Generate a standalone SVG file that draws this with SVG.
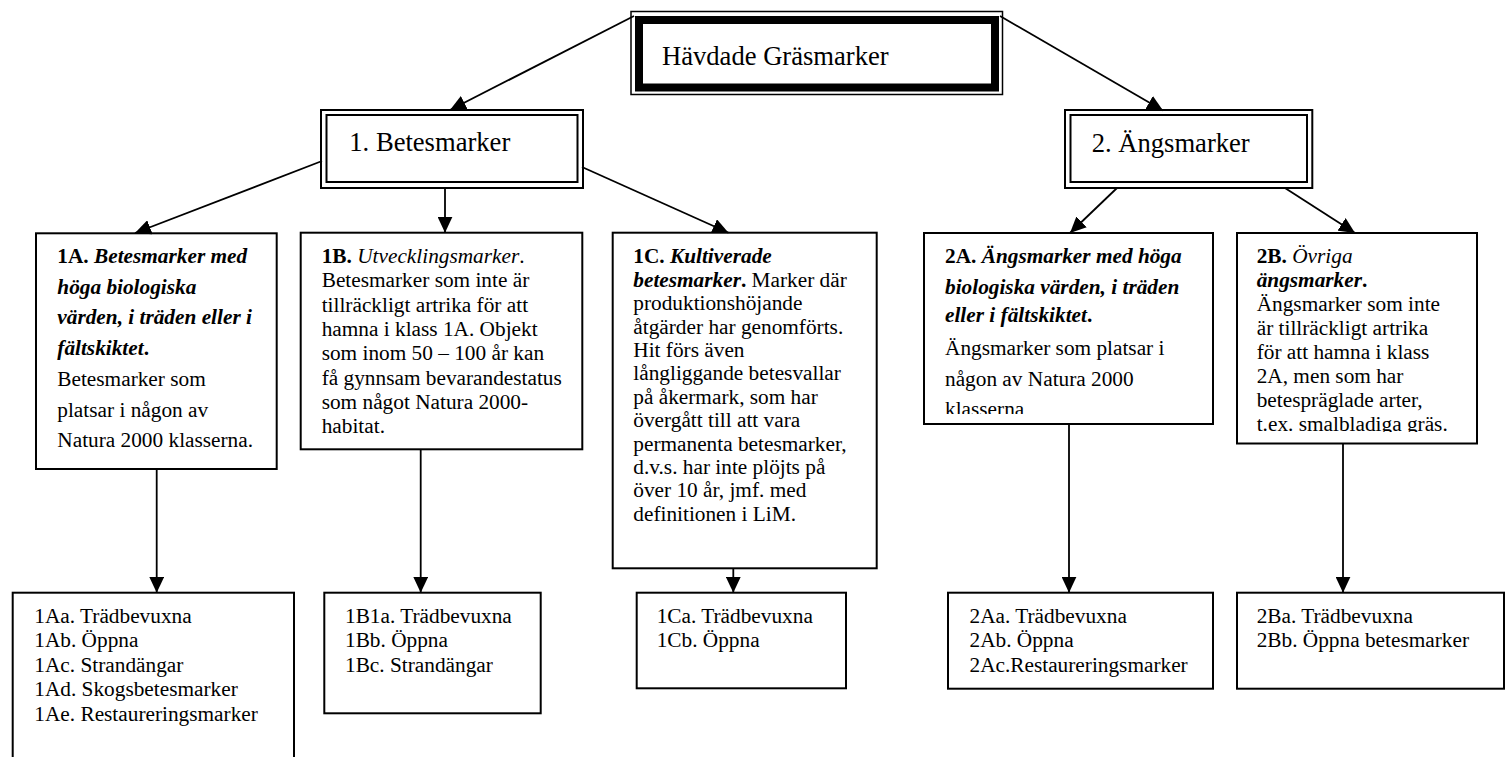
<svg xmlns="http://www.w3.org/2000/svg" width="1506" height="757" viewBox="0 0 1506 757">
<style>
text{font-family:"Liberation Serif","Times New Roman",serif;fill:#000}
.big{font-size:26.6px}
.t{font-size:21.3px}
.b{font-weight:bold}
.i{font-style:italic}
.bi{font-weight:bold;font-style:italic}
.box{fill:#fff;stroke:#000;stroke-width:2}
.conn line{stroke:#000;stroke-width:1.8;marker-end:url(#ah)}
</style>
<defs>
<marker id="ah" markerUnits="userSpaceOnUse" markerWidth="16" markerHeight="15" viewBox="0 0 16 15" refX="16" refY="7.5" orient="auto">
<path d="M0,0 L16,7.5 L0,15 z" fill="#000"/>
</marker>
<clipPath id="c2a"><rect x="924" y="233" width="289" height="181"/></clipPath>
<clipPath id="c2b"><rect x="1237" y="233" width="240" height="199"/></clipPath>
</defs>
<rect width="1506" height="757" fill="#fff"/>

<g id="root">
<rect x="631" y="11.5" width="371.5" height="83" fill="#fff" stroke="#000" stroke-width="1.5"/>
<rect x="639" y="20" width="356" height="67.5" fill="none" stroke="#000" stroke-width="8"/>
<text class="big" x="662" y="65">Hävdade Gräsmarker</text>
</g>

<g id="betesmarker">
<rect class="box" x="321" y="110" width="262" height="78"/>
<rect x="326.5" y="115" width="251" height="67" fill="none" stroke="#000" stroke-width="2"/>
<text class="big" x="349.3" y="151">1. Betesmarker</text>
</g>

<g id="angsmarker">
<rect class="box" x="1065" y="110" width="247.3" height="78"/>
<rect x="1070.5" y="115" width="236.5" height="67" fill="none" stroke="#000" stroke-width="2"/>
<text class="big" x="1091.7" y="151.7">2. Ängsmarker</text>
</g>

<g id="n1A">
<rect class="box" x="36" y="233.3" width="240.7" height="235.7"/>
<text class="t" x="57.3" y="263"><tspan class="b">1A. </tspan><tspan class="bi">Betesmarker med</tspan></text>
<text class="t bi" x="57.3" y="293.5">höga biologiska</text>
<text class="t bi" x="57.3" y="324">värden, i träden eller i</text>
<text class="t" x="57.3" y="355"><tspan class="bi">fältskiktet</tspan><tspan class="b">.</tspan></text>
<text class="t" x="57.3" y="385.7">Betesmarker som</text>
<text class="t" x="57.3" y="416.5">platsar i någon av</text>
<text class="t" x="57.3" y="446.7">Natura 2000 klasserna.</text>
</g>

<g id="n1B">
<rect class="box" x="300.7" y="232.7" width="281.6" height="216.6"/>
<text class="t" x="321.7" y="262.7"><tspan class="b">1B. </tspan><tspan class="i">Utvecklingsmarker</tspan>.</text>
<text class="t" x="321.7" y="287">Betesmarker som inte är</text>
<text class="t" x="321.7" y="311.5">tillräckligt artrika för att</text>
<text class="t" x="321.7" y="336">hamna i klass 1A. Objekt</text>
<text class="t" x="321.7" y="360.3">som inom 50 – 100 år kan</text>
<text class="t" x="321.7" y="384.7">få gynnsam bevarandestatus</text>
<text class="t" x="321.7" y="409">som något Natura 2000-</text>
<text class="t" x="321.7" y="433.4">habitat.</text>
</g>

<g id="n1C">
<rect class="box" x="612.7" y="232.7" width="264" height="335.6"/>
<text class="t" x="633.3" y="263.3"><tspan class="b">1C. </tspan><tspan class="bi">Kultiverade</tspan></text>
<text class="t" x="633.3" y="286.7"><tspan class="bi">betesmarker</tspan><tspan class="b">.</tspan> Marker där</text>
<text class="t" x="633.3" y="310.1">produktionshöjande</text>
<text class="t" x="633.3" y="333.5">åtgärder har genomförts.</text>
<text class="t" x="633.3" y="356.9">Hit förs även</text>
<text class="t" x="633.3" y="380.3">långliggande betesvallar</text>
<text class="t" x="633.3" y="403.7">på åkermark, som har</text>
<text class="t" x="633.3" y="427.1">övergått till att vara</text>
<text class="t" x="633.3" y="450.5">permanenta betesmarker,</text>
<text class="t" x="633.3" y="473.9">d.v.s. har inte plöjts på</text>
<text class="t" x="633.3" y="497.3">över 10 år, jmf. med</text>
<text class="t" x="633.3" y="520.7">definitionen i LiM.</text>
</g>

<g id="n2A">
<rect class="box" x="924" y="233" width="289" height="191"/>
<g clip-path="url(#c2a)">
<text class="t" x="945" y="263.3"><tspan class="b">2A. </tspan><tspan class="bi">Ängsmarker med höga</tspan></text>
<text class="t bi" x="945" y="293.5">biologiska värden, i träden</text>
<text class="t" x="945" y="322"><tspan class="bi">eller i fältskiktet</tspan><tspan class="b">.</tspan></text>
<text class="t" x="945" y="355">Ängsmarker som platsar i</text>
<text class="t" x="945" y="385.5">någon av Natura 2000</text>
<text class="t" x="945" y="415.5">klasserna</text>
</g>
</g>

<g id="n2B">
<rect class="box" x="1237" y="233" width="240" height="210.5"/>
<g clip-path="url(#c2b)">
<text class="t" x="1256.7" y="263.3"><tspan class="b">2B. </tspan><tspan class="i">Övriga</tspan></text>
<text class="t" x="1256.7" y="287.3"><tspan class="bi">ängsmarker</tspan><tspan class="b">.</tspan></text>
<text class="t" x="1256.7" y="311.3">Ängsmarker som inte</text>
<text class="t" x="1256.7" y="335.3">är tillräckligt artrika</text>
<text class="t" x="1256.7" y="359.3">för att hamna i klass</text>
<text class="t" x="1256.7" y="383.3">2A, men som har</text>
<text class="t" x="1256.7" y="407.3">betespräglade arter,</text>
<text class="t" x="1256.7" y="431.3">t.ex. smalbladiga gräs.</text>
</g>
</g>

<g id="n1Aa">
<rect class="box" x="12.7" y="592.7" width="281.3" height="180"/>
<text class="t" x="34.3" y="622.7">1Aa. Trädbevuxna</text>
<text class="t" x="34.3" y="647.2">1Ab. Öppna</text>
<text class="t" x="34.3" y="671.7">1Ac. Strandängar</text>
<text class="t" x="34.3" y="696.2">1Ad. Skogsbetesmarker</text>
<text class="t" x="34.3" y="720.7">1Ae. Restaureringsmarker</text>
</g>

<g id="n1Ba">
<rect class="box" x="324.3" y="592.7" width="216.4" height="120.6"/>
<text class="t" x="345" y="622.7">1B1a. Trädbevuxna</text>
<text class="t" x="345" y="647.2">1Bb. Öppna</text>
<text class="t" x="345" y="671.7">1Bc. Strandängar</text>
</g>

<g id="n1Ca">
<rect class="box" x="636.7" y="592.7" width="209.3" height="95.6"/>
<text class="t" x="656.7" y="622.7">1Ca. Trädbevuxna</text>
<text class="t" x="656.7" y="647.2">1Cb. Öppna</text>
</g>

<g id="n2Aa">
<rect class="box" x="948" y="592.7" width="265" height="96"/>
<text class="t" x="969.5" y="622.7">2Aa. Trädbevuxna</text>
<text class="t" x="969.5" y="647.2">2Ab. Öppna</text>
<text class="t" x="969.5" y="671.7">2Ac.Restaureringsmarker</text>
</g>

<g id="n2Ba">
<rect class="box" x="1237" y="592.7" width="267" height="96"/>
<text class="t" x="1256.7" y="622.7">2Ba. Trädbevuxna</text>
<text class="t" x="1256.7" y="647.2">2Bb. Öppna betesmarker</text>
</g>

<g class="conn" id="connectors">
<line x1="634" y1="16" x2="450" y2="110"/>
<line x1="1000" y1="16" x2="1163" y2="110.5"/>
<line x1="322" y1="161" x2="135" y2="233"/>
<line x1="445" y1="188" x2="445" y2="232.7"/>
<line x1="582" y1="167" x2="728.5" y2="232.7"/>
<line x1="1117" y1="188" x2="1070" y2="233"/>
<line x1="1285" y1="188" x2="1355" y2="233"/>
<line x1="156.7" y1="469" x2="156.7" y2="592.7"/>
<line x1="420.7" y1="449.3" x2="420.7" y2="592.7"/>
<line x1="733.3" y1="568.3" x2="733.3" y2="592.7"/>
<line x1="1069" y1="424" x2="1069" y2="592.7"/>
<line x1="1343" y1="443.5" x2="1343" y2="592.7"/>
</g>
</svg>
